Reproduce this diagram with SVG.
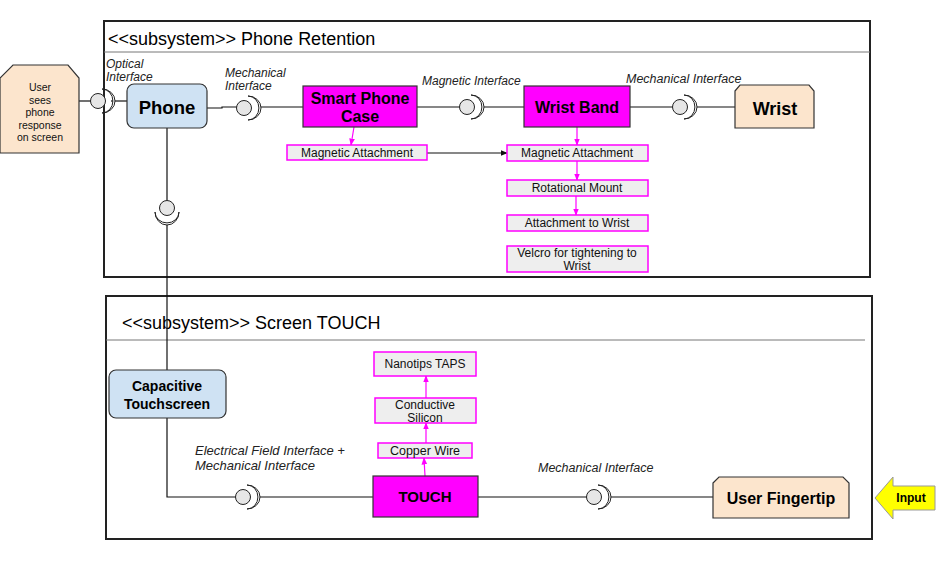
<svg xmlns="http://www.w3.org/2000/svg" width="938" height="564" viewBox="0 0 938 564">
<defs>
<style>
.sub{fill:#fff;stroke:#222;stroke-width:2}
.hdr{stroke:#777;stroke-width:1}
.title{font-family:"Liberation Sans",Arial,sans-serif;font-size:18px;fill:#000}
.lbl{font-family:"Liberation Sans",Arial,sans-serif;font-size:12px;font-style:italic;fill:#222}
.blue{fill:#cfe2f3;stroke:#333;stroke-width:1.2}
.mag{fill:#ff00ff;stroke:#333;stroke-width:1.2}
.peach{fill:#fce5cd;stroke:#333;stroke-width:1.2}
.part{fill:#eeeeee;stroke:#ff00ff;stroke-width:1.5}
.bt{font-family:"Liberation Sans",Arial,sans-serif;font-weight:bold;fill:#000;text-anchor:middle}
.pt{font-family:"Liberation Sans",Arial,sans-serif;font-size:12px;fill:#111;text-anchor:middle}
.ln{stroke:#111;stroke-width:1.2;fill:none}
.ml{stroke:#ff00ff;stroke-width:1.2;fill:none}
.ball{fill:#e6e6e6;stroke:#222;stroke-width:1}
.sock{fill:#fff;stroke:#222;stroke-width:1}
</style>
<marker id="mh" viewBox="0 0 10 10" refX="9" refY="5" markerWidth="6" markerHeight="6" orient="auto"><path d="M0,1 L10,5 L0,9 z" fill="#ff00ff"/></marker>
<marker id="bh" viewBox="0 0 10 10" refX="9" refY="5" markerWidth="6" markerHeight="6" orient="auto"><path d="M0,1 L10,5 L0,9 z" fill="#111"/></marker>
<g id="iface">
<circle class="ball" cx="0" cy="0" r="7.5"/>
<path class="sock" d="M4,-12 A13,12 0 0 1 4,12 A10,11 0 0 0 4,-12 Z"/>
</g>
</defs>
<rect width="938" height="564" fill="#fff"/>

<g id="sub-phone-retention">
<rect class="sub" x="104" y="21" width="766" height="256"/>
<line class="hdr" x1="104" y1="52" x2="870" y2="52"/>
<text class="title" x="108" y="45">&lt;&lt;subsystem&gt;&gt; Phone Retention</text>
</g>
<g id="sub-screen-touch">
<rect class="sub" x="106" y="296" width="766" height="243"/>
<line class="hdr" x1="106" y1="340" x2="865" y2="340"/>
<text class="title" x="122" y="329">&lt;&lt;subsystem&gt;&gt; Screen TOUCH</text>
</g>

<g id="connectors">
<line class="ln" x1="79" y1="101" x2="91" y2="101"/>
<line class="ln" x1="111" y1="101" x2="127" y2="101"/>
<use href="#iface" x="98" y="101"/>
<text class="lbl" x="106" y="68">Optical</text>
<text class="lbl" x="106" y="81">Interface</text>
<path class="ln" d="M207,108 H222 V107 H237"/>
<line class="ln" x1="261" y1="107" x2="303" y2="107"/>
<use href="#iface" x="244" y="108"/>
<text class="lbl" x="225" y="77">Mechanical</text>
<text class="lbl" x="225" y="90">Interface</text>
<line class="ln" x1="417" y1="107" x2="460" y2="107"/>
<line class="ln" x1="484" y1="107" x2="524" y2="107"/>
<use href="#iface" x="467" y="107"/>
<text class="lbl" x="422" y="85">Magnetic Interface</text>
<line class="ln" x1="630" y1="107" x2="673" y2="107"/>
<line class="ln" x1="697" y1="107" x2="735" y2="107"/>
<use href="#iface" x="680" y="107"/>
<text class="lbl" x="626" y="83" style="font-size:12.5px">Mechanical Interface</text>
<line class="ln" x1="167" y1="128" x2="167" y2="200"/>
<use href="#iface" transform="translate(167,208) rotate(90)"/>
<line class="ln" x1="167" y1="225" x2="167" y2="370"/>
<path class="ln" d="M167,418 V497 H236"/>
<line class="ln" x1="260" y1="497" x2="373" y2="497"/>
<use href="#iface" x="243" y="497"/>
<text class="lbl" x="195" y="455" style="font-size:13px">Electrical Field Interface +</text>
<text class="lbl" x="195" y="470" style="font-size:13px">Mechanical Interface</text>
<line class="ln" x1="478" y1="497" x2="587" y2="497"/>
<line class="ln" x1="611" y1="497" x2="713" y2="497"/>
<use href="#iface" x="594" y="497"/>
<text class="lbl" x="538" y="472" style="font-size:12.5px">Mechanical Interface</text>
<line class="ml" x1="354" y1="127" x2="351" y2="145" marker-end="url(#mh)"/>
<line class="ln" x1="427" y1="153" x2="507" y2="153" marker-end="url(#bh)"/>
<line class="ml" x1="577" y1="127" x2="577" y2="145" marker-end="url(#mh)"/>
<line class="ml" x1="577" y1="161" x2="577" y2="180" marker-end="url(#mh)"/>
<line class="ml" x1="576" y1="196" x2="576" y2="215" marker-end="url(#mh)"/>
<line class="ml" x1="425" y1="476" x2="424" y2="458" marker-end="url(#mh)"/>
<line class="ml" x1="426" y1="443" x2="426" y2="423" marker-end="url(#mh)"/>
<line class="ml" x1="426" y1="398" x2="426" y2="376" marker-end="url(#mh)"/>
</g>

<g id="user-sees">
<path class="peach" d="M0,78 L13,65 H68 L79,78 V153 H0 Z"/>
<g class="pt" style="font-size:10.5px">
<text x="40" y="91">User</text>
<text x="40" y="104">sees</text>
<text x="40" y="116">phone</text>
<text x="40" y="129">response</text>
<text x="40" y="141">on screen</text>
</g>
</g>
<g id="phone">
<rect class="blue" x="127" y="84" width="80" height="44" rx="7"/>
<text class="bt" x="167" y="114" style="font-size:18.5px">Phone</text>
</g>
<g id="smart-phone-case">
<rect class="mag" x="303" y="86" width="114" height="41"/>
<text class="bt" x="360" y="104" style="font-size:16px">Smart Phone</text>
<text class="bt" x="360" y="122" style="font-size:16px">Case</text>
</g>
<g id="wrist-band">
<rect class="mag" x="524" y="86" width="106" height="41"/>
<text class="bt" x="577" y="113" style="font-size:16px">Wrist Band</text>
</g>
<g id="wrist">
<path class="peach" d="M735,91 L740,85 H809 L814,91 V128 H735 Z"/>
<text class="bt" x="775" y="115" style="font-size:18px">Wrist</text>
</g>
<g id="mag-attach-case">
<rect class="part" x="287" y="145" width="140" height="15"/>
<text class="pt" x="357" y="157">Magnetic Attachment</text>
</g>
<g id="mag-attach-band">
<rect class="part" x="507" y="145" width="141" height="16"/>
<text class="pt" x="577" y="157">Magnetic Attachment</text>
</g>
<g id="rotational-mount">
<rect class="part" x="507" y="180" width="141" height="16"/>
<text class="pt" x="577" y="192">Rotational Mount</text>
</g>
<g id="attach-wrist">
<rect class="part" x="507" y="215" width="141" height="16"/>
<text class="pt" x="577" y="227">Attachment to Wrist</text>
</g>
<g id="velcro">
<rect class="part" x="507" y="246" width="141" height="26"/>
<text class="pt" x="577" y="257">Velcro for tightening to</text>
<text class="pt" x="577" y="270">Wrist</text>
</g>
<g id="capacitive">
<rect class="blue" x="109" y="370" width="117" height="48" rx="7"/>
<text class="bt" x="167" y="391" style="font-size:14px">Capacitive</text>
<text class="bt" x="167" y="409" style="font-size:14px">Touchscreen</text>
</g>
<g id="nanotips">
<rect class="part" x="374" y="352" width="102" height="24"/>
<text class="pt" x="425" y="368">Nanotips TAPS</text>
</g>
<g id="silicon">
<rect class="part" x="375" y="398" width="101" height="25"/>
<text class="pt" x="425" y="409">Conductive</text>
<text class="pt" x="425" y="422">Silicon</text>
</g>
<g id="copper">
<rect class="part" x="378" y="443" width="94" height="15"/>
<text class="pt" x="425" y="455" style="font-size:12.5px">Copper Wire</text>
</g>
<g id="touch">
<rect class="mag" x="373" y="476" width="105" height="41"/>
<text class="bt" x="425" y="502" style="font-size:15px">TOUCH</text>
</g>
<g id="user-fingertip">
<path class="peach" d="M713,483 L719,477 H843 L849,483 V518 H713 Z"/>
<text class="bt" x="781" y="504" style="font-size:16px">User Fingertip</text>
</g>
<g id="input">
<path d="M875,498 L893,477 V486 H935 V510 H893 V519 Z" fill="#ffff00" stroke="#999" stroke-width="1"/>
<text class="bt" x="911" y="502" style="font-size:12px">Input</text>
</g>
</svg>
